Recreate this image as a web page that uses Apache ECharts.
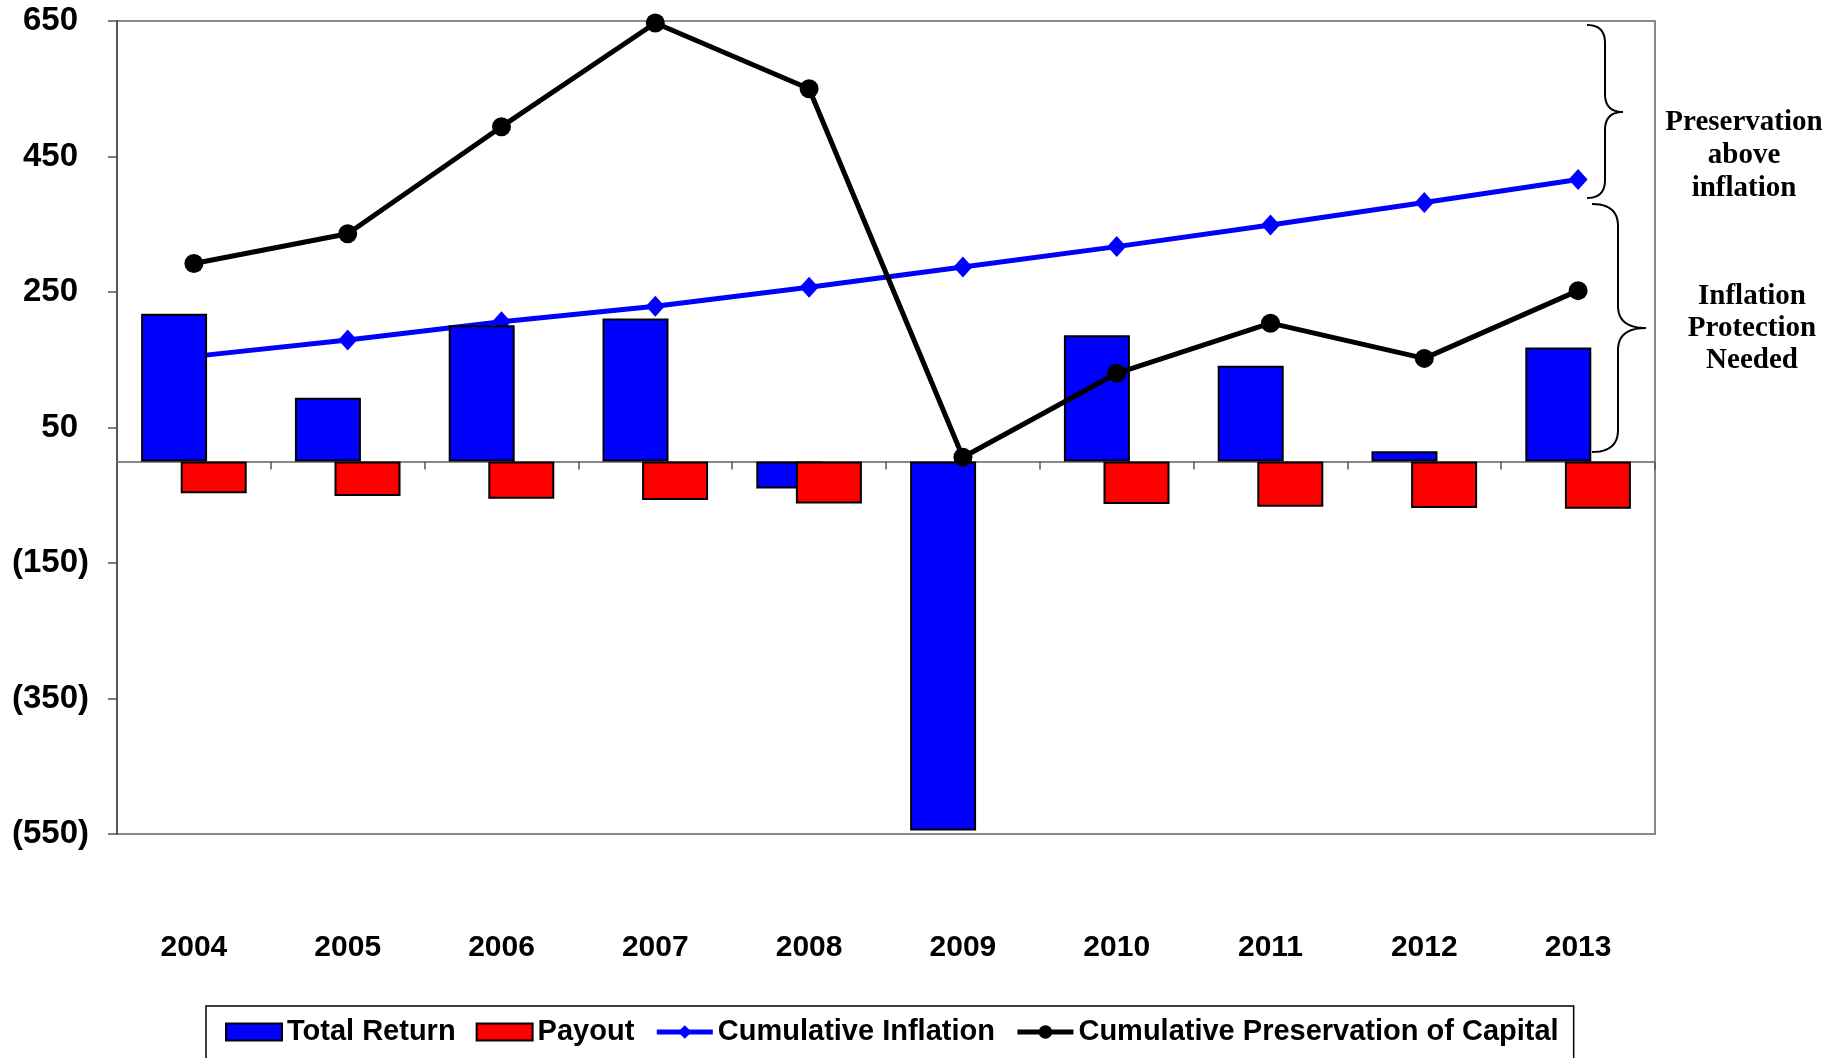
<!DOCTYPE html>
<html>
<head>
<meta charset="utf-8">
<script src="https://cdn.jsdelivr.net/npm/echarts@6/dist/echarts.min.js"></script>
<style>
html,body{margin:0;padding:0;background:#fff;}
#chart{width:1841px;height:1058px;}
</style>
</head>
<body>
<div id="chart"></div>
<script>
const years = ['2004','2005','2006','2007','2008','2009','2010','2011','2012','2013'];
const totalReturn = [218, 94, 201, 211, -40, -545, 186, 141, 15, 168];
const payout = [-47, -51, -55, -57, -62, null, -63, -67, -69, -70];
const cumulativeInflation = [155, 179, 206, 229, 257, 287, 317, 349, 382, 416];
const cumulativePreservation = [292, 336, 494, 647, 550, 6, 130, 204, 152, 252];
const yTicks = {min: -550, max: 650, interval: 200};
const annotationTop = 'Preservation\nabove\ninflation';
const annotationBottom = 'Inflation\nProtection\nNeeded';

const SANS = '"Liberation Sans", Arial, sans-serif';
const SERIF = '"Liberation Serif", "Times New Roman", serif';

// quadratic bezier sampled into points
function quad(p0, c, p1, n) {
  const pts = [];
  for (let i = 0; i <= n; i++) {
    const t = i / n, u = 1 - t;
    pts.push([u * u * p0[0] + 2 * u * t * c[0] + t * t * p1[0],
              u * u * p0[1] + 2 * u * t * c[1] + t * t * p1[1]]);
  }
  return pts;
}
function bracePoints(xl, xs, xt, y0, ym, y1, r) {
  let pts = [];
  pts = pts.concat(quad([xl, y0], [xs, y0], [xs, y0 + r], 12));
  pts = pts.concat(quad([xs, ym - r], [xs, ym], [xt, ym], 12));
  pts = pts.concat(quad([xt, ym], [xs, ym], [xs, ym + r], 12));
  pts = pts.concat(quad([xs, y1 - r], [xs, y1], [xl, y1], 12));
  return pts;
}

const chart = echarts.init(document.getElementById('chart'), null, {renderer: 'canvas'});
const option = {
  backgroundColor: '#fff',
  animation: false,
  grid: {
    left: 117, right: 186, top: 21, bottom: 224,
    show: true, borderColor: '#888', borderWidth: 2,
    containLabel: false
  },
  legend: {
    left: 206, top: 1006,
    orient: 'horizontal',
    padding: [11, 15, 40, 19],
    borderColor: '#000', borderWidth: 1.5,
    itemWidth: 56, itemHeight: 17, itemGap: 20,
    lineStyle: {width: 5},
    textStyle: {fontFamily: SANS, fontSize: 29, fontWeight: 'bold', color: '#000', lineHeight: 30},
    data: [
      {name: 'Total Return', icon: 'rect'},
      {name: 'Payout', icon: 'rect'},
      'Cumulative Inflation',
      'Cumulative Preservation of Capital'
    ]
  },
  xAxis: [
    {
      type: 'category', data: years, position: 'bottom',
      axisLine: {show: false, onZero: false},
      axisTick: {show: false},
      splitLine: {show: false},
      axisLabel: {
        margin: 99, fontFamily: SANS, fontSize: 30, fontWeight: 'bold', color: '#000', lineHeight: 30
      }
    },
    {
      type: 'category', data: years, position: 'bottom',
      axisLine: {show: true, onZero: true, lineStyle: {color: '#888', width: 2}},
      axisTick: {show: true, length: 8, lineStyle: {color: '#555', width: 1.5}},
      axisLabel: {show: false},
      splitLine: {show: false}
    }
  ],
  yAxis: {
    type: 'value', min: yTicks.min, max: yTicks.max, interval: yTicks.interval,
    axisLine: {show: true, onZero: false, lineStyle: {color: '#555', width: 2}},
    axisTick: {show: true, length: 9, lineStyle: {color: '#555', width: 1.5}},
    splitLine: {show: false},
    axisLabel: {
      margin: 28,
      fontFamily: SANS, fontSize: 33, fontWeight: 'bold', color: '#000', lineHeight: 33,
      formatter: function (v) {
        if (v < 0) return '{n|(' + Math.abs(v) + ')}';
        return '{n|' + v + '}{h|)}';
      },
      rich: {
        n: {fontFamily: SANS, fontSize: 33, fontWeight: 'bold', color: '#000'},
        h: {fontFamily: SANS, fontSize: 33, fontWeight: 'bold', color: 'rgba(0,0,0,0)'}
      }
    }
  },
  series: [
    {
      name: 'Total Return', type: 'bar', data: totalReturn, z: 2,
      barWidth: 66, barGap: '-40%',
      itemStyle: {color: '#0000FF', borderColor: '#000', borderWidth: 2}
    },
    {
      name: 'Payout', type: 'bar', data: payout, z: 2,
      barWidth: 66, barGap: '-40%',
      itemStyle: {color: '#FF0000', borderColor: '#000', borderWidth: 2}
    },
    {
      name: 'Cumulative Inflation', type: 'line', data: cumulativeInflation, z: 1,
      symbol: 'diamond', symbolSize: [19, 21],
      lineStyle: {color: '#0000FF', width: 5},
      itemStyle: {color: '#0000FF', borderWidth: 0}
    },
    {
      name: 'Cumulative Preservation of Capital', type: 'line', data: cumulativePreservation, z: 3,
      symbol: 'circle', symbolSize: 19,
      lineStyle: {color: '#000', width: 5},
      itemStyle: {color: '#000', borderWidth: 0}
    }
  ],
  graphic: [
    {
      type: 'polyline', z: 10,
      shape: {points: bracePoints(1587, 1605, 1623, 25, 112, 198, 18)},
      style: {fill: null, stroke: '#000', lineWidth: 2}
    },
    {
      type: 'polyline', z: 10,
      shape: {points: bracePoints(1592, 1618, 1646, 204, 328, 452, 22)},
      style: {fill: null, stroke: '#000', lineWidth: 2}
    },
    {
      type: 'text', z: 10, x: 1744, y: 156,
      style: {
        text: annotationTop, font: 'bold 29px ' + SERIF, fill: '#000',
        lineHeight: 33, align: 'center', verticalAlign: 'middle'
      }
    },
    {
      type: 'text', z: 10, x: 1752, y: 329,
      style: {
        text: annotationBottom, font: 'bold 29px ' + SERIF, fill: '#000',
        lineHeight: 32, align: 'center', verticalAlign: 'middle'
      }
    }
  ]
};
chart.setOption(option);
</script>
</body>
</html>
